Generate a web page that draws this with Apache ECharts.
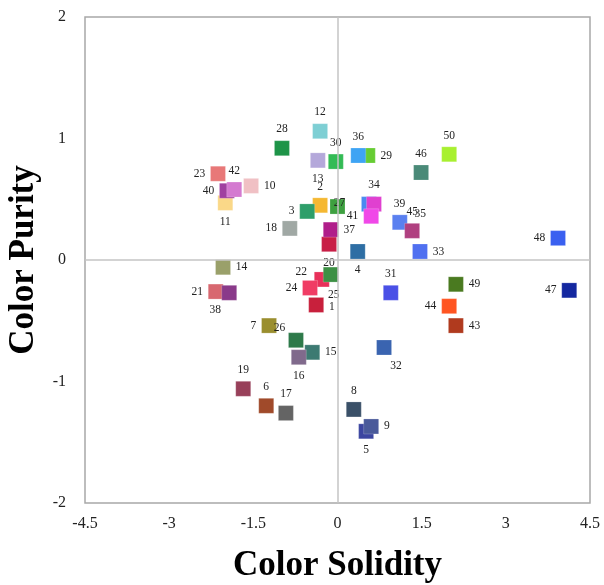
<!DOCTYPE html>
<html>
<head>
<meta charset="utf-8">
<script src="https://cdn.jsdelivr.net/npm/echarts@6/dist/echarts.min.js"></script>
<style>
  html, body { margin: 0; padding: 0; background: #fff; }
  #chart { width: 604px; height: 585px; }
</style>
</head>
<body>
<div id="chart"></div>
<script>
// Sample numbers and their coordinates on the two color dimensions
const ids = [1,2,3,4,5,6,7,8,9,10,11,12,13,14,15,16,17,18,19,20,21,22,23,24,25,
             26,27,28,29,30,31,32,33,34,35,36,37,38,39,40,41,42,43,44,45,46,47,48,49,50];
const solidity = [-0.38,-0.31,-0.54,0.36,0.51,-1.27,-1.22,0.29,0.60,-1.54,
                  -2.00,-0.31,-0.35,-2.04,-0.45,-0.69,-0.92,-0.85,-1.68,-0.15,
                  -2.17,-0.28,-2.13,-0.49,-0.12,-0.74,0.00,-0.99,0.54,-0.03,
                  0.95,0.83,1.47,0.65,1.11,0.37,-0.12,-1.93,0.56,-1.97,
                  0.60,-1.84,2.11,1.99,1.33,1.49,4.13,3.93,2.11,1.99];
const purity = [-0.37,0.45,0.40,0.07,-1.41,-1.20,-0.54,-1.23,-1.37,0.61,
                0.47,1.06,0.82,-0.06,-0.76,-0.80,-1.26,0.26,-1.06,0.13,
                -0.26,-0.16,0.71,-0.23,-0.12,-0.66,0.44,0.92,0.86,0.81,
                -0.27,-0.72,0.07,0.46,0.31,0.86,0.25,-0.27,0.46,0.57,
                0.36,0.58,-0.54,-0.38,0.24,0.72,-0.25,0.18,-0.20,0.87];
const xTicks = [-4.5, -3, -1.5, 0, 1.5, 3, 4.5];
const yTicks = [-2, -1, 0, 1, 2];

// Fill colour of each sample swatch
const swatch = ['#c8203c','#f5b832','#2e9e6a','#2e6ea4','#3c46a0','#a04a2a','#9a8e2e','#3a5068','#4a5a9a','#f0c0c4',
                '#fad888','#7ecfd4','#b4a8da','#9aa06a','#3c7a72','#806a8c','#646464','#a0a8a4','#98405a','#c81e46',
                '#d86870','#e8305a','#e87878','#f03c64','#3c9044','#2e7a4a','#3ea040','#1e9448','#66cc33','#33bb55',
                '#4a50e6','#3a64b0','#5070f0','#e040d0','#5a80f0','#3ea4f4','#b01e8a','#8a3a8a','#4a8af0','#a040a0',
                '#f048e8','#d47ad0','#b03a1e','#ff5522','#b04080','#4a8a78','#1428a0','#3a60f0','#4a7a20','#a8f030'];
// Where each sample number sits relative to its swatch
const place = ['right','top','left','bottom','bottom','top','left','top','right','right',
               'bottom','top','bottom','right','right','bottom','top','left','top','bottom',
               'left','left','left','left','bottom','left','inside','top','right','top',
               'top','bottom','right','top','right','top','right','bottom','right','left',
               'left','top','right','left','top','top','left','left','right','top'];
const labelShift = { 25: [3, 2], 32: [12, 0], 38: [-14, -2], 26: [2, -12], 22: [-2, -7], 1: [0, 2], 39: [12, 0], 35: [2, -8], 27: [2, -4] };
// swatches drawn underneath their neighbours
const underneath = [39];

const points = ids.map((id, i) => ({
  name: String(id),
  value: [solidity[i], purity[i]],
  itemStyle: { color: swatch[i] },
  label: { position: place[i], offset: labelShift[id] || [0, 0] }
}));
points.sort((a, b) => (underneath.includes(+b.name) ? 1 : 0) - (underneath.includes(+a.name) ? 1 : 0));

const serif = "'Liberation Serif', 'DejaVu Serif', serif";
const chart = echarts.init(document.getElementById('chart'));
chart.setOption({
  animation: false,
  grid: {
    left: 85, right: 14, top: 17, bottom: 82, outerBoundsMode: 'none', containLabel: false,
    show: true, borderColor: '#a8a8a8', borderWidth: 1.5, backgroundColor: '#fff'
  },
  xAxis: {
    type: 'value', min: xTicks[0], max: xTicks[xTicks.length - 1], interval: 1.5,
    name: 'Color Solidity', nameLocation: 'middle', nameGap: 45,
    nameTextStyle: { fontFamily: serif, fontWeight: 'bold', fontSize: 35, color: '#000' },
    axisLine: { show: false, onZero: false }, axisTick: { show: false }, splitLine: { show: false },
    axisLabel: { fontFamily: serif, fontSize: 16, color: '#222', margin: 13 }
  },
  yAxis: {
    type: 'value', min: yTicks[0], max: yTicks[yTicks.length - 1], interval: 1,
    name: 'Color Purity', nameLocation: 'middle', nameGap: 40,
    nameTextStyle: { fontFamily: serif, fontWeight: 'bold', fontSize: 35, color: '#000' },
    axisLine: { show: false, onZero: false }, axisTick: { show: false }, splitLine: { show: false },
    axisLabel: { fontFamily: serif, fontSize: 16, color: '#222', margin: 19 }
  },
  series: [
    {
      // origin cross-hairs
      type: 'scatter', data: [], z: 1, silent: true,
      markLine: {
        silent: true, symbol: 'none', label: { show: false },
        lineStyle: { color: '#c4c4c4', width: 1.5, type: 'solid' },
        data: [{ xAxis: 0 }, { yAxis: 0 }]
      }
    },
    {
      type: 'scatter', z: 3, symbol: 'rect', symbolSize: 15,
      data: points,
      itemStyle: { opacity: 1, borderColor: 'rgba(255,255,255,0.35)', borderWidth: 0.6 },
      label: {
        show: true, formatter: '{b}', distance: 5,
        fontFamily: serif, fontSize: 11.5, color: '#222'
      }
    }
  ]
});
</script>
</body>
</html>
